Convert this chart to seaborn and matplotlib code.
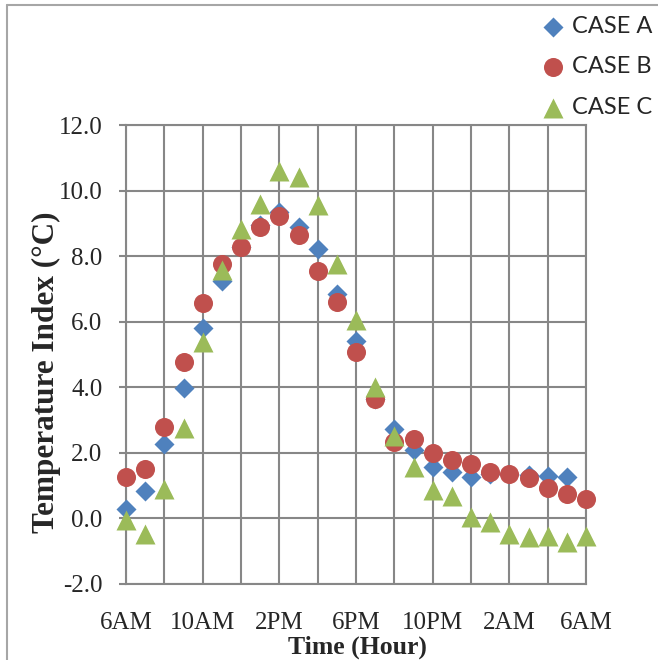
import matplotlib
matplotlib.use("Agg")
import matplotlib.pyplot as plt
import seaborn as sns
from matplotlib.lines import Line2D

# data (hour 0 = 6AM)
hours = list(range(25))
case_a = [0.30, 0.85, 2.26, 3.98, 5.80, 7.25, 8.28, 8.94, 9.35, 8.89, 8.23, 6.86,
          5.42, 3.65, 2.72, 2.09, 1.56, 1.43, 1.27, 1.37, 1.37, 1.32, 1.29, 1.27]
case_b = [1.27, 1.50, 2.78, 4.77, 6.58, 7.76, 8.28, 8.89, 9.23, 8.64, 7.55, 6.59,
          5.08, 3.65, 2.34, 2.41, 2.00, 1.78, 1.66, 1.42, 1.37, 1.22, 0.92, 0.74, 0.58]
case_c = [-0.05, -0.47, 0.90, 2.75, 5.39, 7.57, 8.84, 9.58, 10.59, 10.42, 9.55, 7.77,
          6.04, 4.00, 2.52, 1.57, 0.86, 0.67, 0.04, -0.12, -0.48, -0.57, -0.55, -0.73, -0.55]
x_labels = ["6AM", "10AM", "2PM", "6PM", "10PM", "2AM", "6AM"]

sns.set_style("white")
plt.rcParams['font.family'] = ['Liberation Serif', 'DejaVu Serif']
plt.rcParams['axes.unicode_minus'] = False

grid_col = "#878787"

fig = plt.figure(figsize=(6.58, 6.60), dpi=100)
ax = fig.add_axes([126/658, 1 - 584/660, 460/658, 459/660])

# series drawn in Excel order so C sits on top
sns.scatterplot(x=hours[:len(case_a)], y=case_a, ax=ax, marker="D", s=104,
                color="#4F81BD", linewidth=0, label="CASE A", clip_on=False, zorder=3)
sns.scatterplot(x=hours, y=case_b, ax=ax, marker="o", s=188,
                color="#C0504D", linewidth=0, label="CASE B", clip_on=False, zorder=4)
sns.scatterplot(x=hours, y=case_c, ax=ax, marker="^", s=207,
                color="#9BBB59", linewidth=0, label="CASE C", clip_on=False, zorder=5)
if ax.get_legend():
    ax.get_legend().remove()

ax.set_xlim(0, 24)
ax.set_ylim(-2, 12)
ax.set_xticks(range(0, 25, 4))
ax.set_xticks(range(2, 25, 4), minor=True)
ax.set_xticklabels(x_labels)
ax.set_yticks(range(-2, 13, 2))
ax.set_yticklabels(["%.1f" % v for v in range(-2, 13, 2)])

ax.grid(True, which="both", color=grid_col, linewidth=1.5)
ax.set_axisbelow(True)
for sp in ax.spines.values():
    sp.set_color(grid_col)
    sp.set_linewidth(1.5)

ax.tick_params(axis="x", which="both", length=0, pad=20, labelsize=18)
ax.tick_params(axis="y", length=5, width=1.5, color=grid_col, direction="out",
               pad=12, labelsize=18, left=True)

fig.text(357/658, 1 - 647/660, "Time (Hour)", ha="center", va="center",
         fontsize=18.5, fontweight="bold")
fig.text(46/658, 1 - 372/660, "Temperature Index (°C)", ha="center", va="center",
         rotation=90, fontsize=22.5, fontweight="bold")

handles, labels = ax.get_legend_handles_labels()
fig.legend(handles, labels, loc="upper left", bbox_to_anchor=(541/658, 1 - 16/660),
           frameon=False, scatterpoints=1, handlelength=1.0, handletextpad=0.3,
           labelspacing=0.82, borderpad=0, borderaxespad=0,
           prop={"family": ["Lato", "DejaVu Sans"], "size": 17})

# outer chart border (left and top edges visible)
fig.add_artist(Line2D([7/658, 7/658], [0, 1 - 5/660], transform=fig.transFigure,
                      color="#A6A6A6", linewidth=1.5))
fig.add_artist(Line2D([7/658, 1], [1 - 5/660, 1 - 5/660], transform=fig.transFigure,
                      color="#A6A6A6", linewidth=1.5))

fig.savefig("out.png", dpi=100)
